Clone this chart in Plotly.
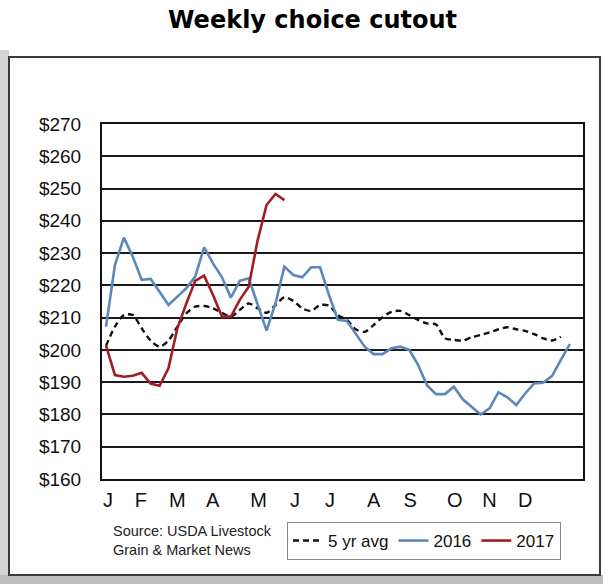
import plotly.graph_objects as go

# ---- data (weekly, $/cwt) ----
avg5 = [201.3, 207.2, 210.8, 210.8, 206.7, 202.9, 201.0, 202.9, 207.2, 211.3,
        213.4, 213.6, 212.9, 211.5, 210.3, 212.4, 214.4, 212.9, 211.5, 213.9,
        216.3, 215.2, 212.9, 212.1, 213.9, 213.7, 210.8, 209.3, 206.4, 205.6,
        207.7, 210.1, 211.8, 212.1, 210.8, 209.3, 208.2, 207.9, 203.6, 203.1,
        202.9, 203.9, 204.6, 205.4, 206.4, 207.0, 206.4, 205.9, 204.9, 203.6,
        202.9, 204.1]
y2016 = [207.2, 226.3, 234.8, 228.9, 221.7, 222.0, 218.0, 213.9, 216.5, 219.1,
         222.7, 231.8, 226.8, 222.5, 216.2, 221.4, 222.2, 214.4, 206.0, 214.4,
         225.8, 223.2, 222.5, 225.6, 225.6, 217.0, 209.3, 209.0, 205.1, 201.0,
         198.7, 198.7, 200.5, 201.0, 200.0, 195.3, 189.0, 186.3, 186.3, 188.6,
         184.7, 182.4, 180.0, 181.9, 186.9, 185.3, 182.9, 186.5, 189.6, 189.8,
         191.9, 196.9, 201.8]
y2017 = [201.3, 192.2, 191.7, 192.0, 192.9, 189.6, 188.9, 194.3, 206.7, 214.4,
         221.4, 223.0, 217.0, 210.3, 210.3, 215.5, 219.6, 234.0, 244.9, 248.3,
         246.4]
month_labels = ["J", "F", "M", "A", "M", "J", "J", "A", "S", "O", "N", "D"]
month_weeks = [1.22, 4.9, 9.0, 12.96, 18.1, 22.2, 26.1, 31.0, 35.1, 40.1, 44.0, 48.0]
y_ticks = [160, 170, 180, 190, 200, 210, 220, 230, 240, 250, 260, 270]
y_ticktext = ["$" + str(v) for v in y_ticks]

weeks_avg = list(range(1, len(avg5) + 1))
weeks_2016 = list(range(1, len(y2016) + 1))
weeks_2017 = list(range(1, len(y2017) + 1))

# ---- layout geometry (pixels) ----
W, H = 610, 584
L, R, T, B = 102, 583, 124, 479


def px(x):
    return (x - L) / (R - L)


def py(y):
    return (B - y) / (B - T)


NARROW = "Liberation Sans Narrow, Arial Narrow, Liberation Sans, Arial, sans-serif"

fig = go.Figure()
fig.add_trace(go.Scatter(x=weeks_avg, y=avg5, mode="lines", name="5 yr avg",
                         line=dict(color="#111111", width=2.4, dash="6px,4px",
                                   shape="spline", smoothing=0.8)))
fig.add_trace(go.Scatter(x=weeks_2016, y=y2016, mode="lines", name="2016",
                         line=dict(color="#5b87b9", width=2.6)))
fig.add_trace(go.Scatter(x=weeks_2017, y=y2017, mode="lines", name="2017",
                         line=dict(color="#a11d24", width=2.6)))

shapes = [
    # left shadow
    dict(type="rect", xref="paper", yref="paper", x0=px(0), x1=px(9), y0=py(584), y1=py(50),
         fillcolor="#d4d4d4", line=dict(width=0), layer="below"),
    # bottom shadow
    dict(type="rect", xref="paper", yref="paper", x0=px(0), x1=px(603), y0=py(584), y1=py(575),
         fillcolor="#bdbdbd", line=dict(width=0), layer="below"),
    # outer frame
    dict(type="rect", xref="paper", yref="paper", x0=px(9), x1=px(600), y0=py(575), y1=py(57),
         fillcolor="white", line=dict(color="#3a3a3a", width=2), layer="below"),
]

annotations = [
    dict(text="<b>Weekly choice cutout</b>", xref="paper", yref="paper",
         x=px(312), y=py(20), xanchor="center", yanchor="middle", showarrow=False,
         font=dict(family="DejaVu Sans, sans-serif", size=24, color="#000000")),
    dict(text="Source: USDA Livestock<br>Grain & Market News", xref="paper", yref="paper",
         x=px(111), y=py(540), xanchor="left", yanchor="middle", align="left", showarrow=False,
         font=dict(family="Liberation Sans, Arial, sans-serif", size=14.5, color="#222222")),
]

fig.update_layout(
    width=W, height=H,
    margin=dict(l=L, r=W - R, t=T, b=H - B),
    paper_bgcolor="white", plot_bgcolor="white",
    shapes=shapes, annotations=annotations,
    showlegend=True,
    legend=dict(orientation="h", x=px(287), y=py(522), xanchor="left", yanchor="top",
                bordercolor="#888888", borderwidth=1, bgcolor="white",
                font=dict(family=NARROW, size=17, color="#111111"),
                itemwidth=30, tracegroupgap=0),
    xaxis=dict(range=[0.55, 54.48], tickmode="array", tickvals=month_weeks,
               ticktext=month_labels, showgrid=False, zeroline=False,
               showline=True, linecolor="#111111", linewidth=2, mirror=True,
               ticks="", tickfont=dict(family=NARROW, size=20, color="#111111"),
               ticklabelstandoff=2),
    yaxis=dict(range=[160, 270], tickmode="array", tickvals=y_ticks, ticktext=y_ticktext,
               showgrid=True, gridcolor="#1a1a1a", gridwidth=2, zeroline=False,
               showline=True, linecolor="#111111", linewidth=2, mirror=True,
               ticks="", tickfont=dict(family=NARROW, size=19, color="#111111"),
               ticklabelstandoff=15),
)

fig.write_html("out.html")
